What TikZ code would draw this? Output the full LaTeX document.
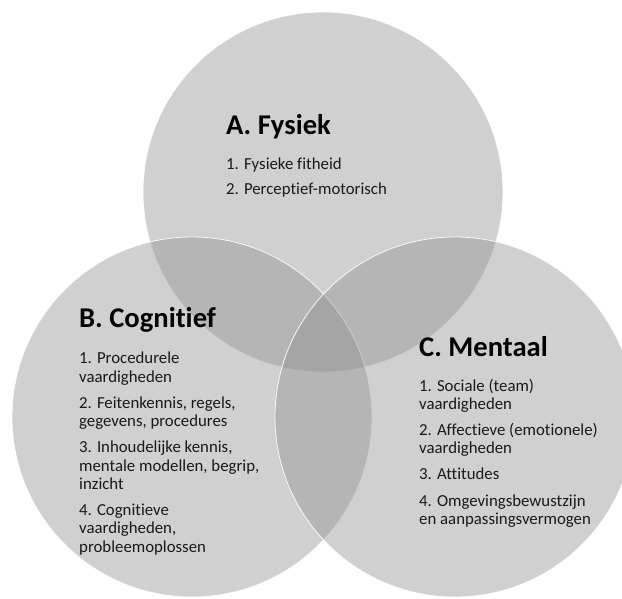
\documentclass[tikz,border=0pt]{standalone}
\usepackage{fontspec}
\setmainfont{Carlito}[Ligatures=NoCommon]
\definecolor{vennfill}{RGB}{144,144,144}
\definecolor{bodytext}{RGB}{25,25,25}
\tikzset{
  venn/.style={circle, minimum size=360pt, inner sep=0pt, fill=vennfill, fill opacity=0.425, draw=white, draw opacity=0.9, line width=0.8pt},
  ttl/.style={anchor=base west, inner sep=0pt, font=\fontsize{28.6}{32}\selectfont\bfseries, text=black},
  itm/.style={anchor=base west, inner sep=0pt, font=\fontsize{16.8}{19}\selectfont, text=bodytext}
}
\begin{document}
\begin{tikzpicture}[x=1pt,y=-1pt]
\useasboundingbox (0,0) rectangle (622,599);
\clip (0,0) rectangle (622,599);
\node[venn] (A) at (323,192) {};
\node[venn] (B) at (192,417) {};
\node[venn] (C) at (455,417) {};
% A
\node[ttl] (At) at (226,135) {A. Fysiek};
\node[itm] (A1) at (226,170) {1. Fysieke fitheid};
\node[itm] (A2) at (226,195) {2. Perceptief-motorisch};
% B
\node[ttl] (Bt) at (79,327) {B. Cognitief};
\node[itm] (B1a) at (79,363) {1. Procedurele};
\node[itm] (B1b) at (79,382) {vaardigheden};
\node[itm] (B2a) at (79,408) {2. Feitenkennis, regels,};
\node[itm] (B2b) at (79,426) {gegevens, procedures};
\node[itm] (B3a) at (79,452) {3. Inhoudelijke kennis,};
\node[itm] (B3b) at (79,471) {mentale modellen, begrip,};
\node[itm] (B3c) at (79,489) {inzicht};
\node[itm] (B4a) at (79,515) {4. Cognitieve};
\node[itm] (B4b) at (79,533) {vaardigheden,};
\node[itm] (B4c) at (79,552) {probleemoplossen};
% C
\node[ttl] (Ct) at (419,356) {C. Mentaal};
\node[itm] (C1a) at (419,391) {1. Sociale (team)};
\node[itm] (C1b) at (419,409) {vaardigheden};
\node[itm] (C2a) at (419,435) {2. Affectieve (emotionele)};
\node[itm] (C2b) at (419,453) {vaardigheden};
\node[itm] (C3) at (419,479) {3. Attitudes};
\node[itm] (C4a) at (419,506) {4. Omgevingsbewustzijn};
\node[itm] (C4b) at (419,524) {en aanpassingsvermogen};
\end{tikzpicture}
\end{document}
